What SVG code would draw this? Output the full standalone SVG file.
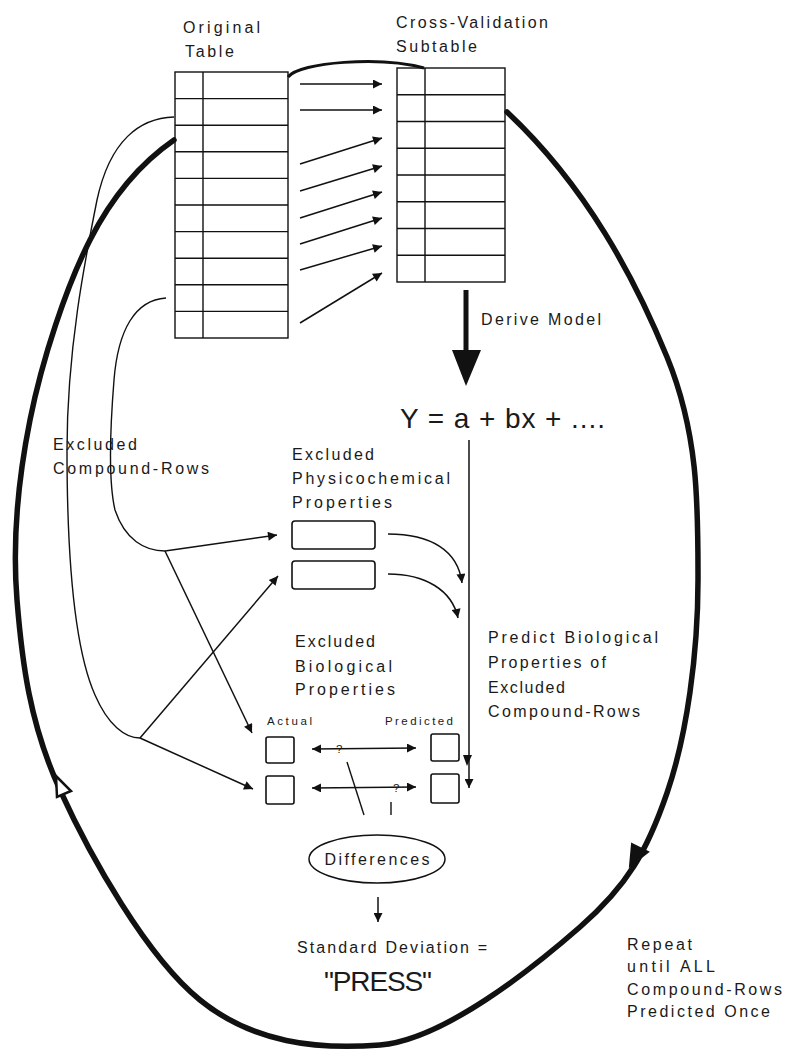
<svg xmlns="http://www.w3.org/2000/svg" width="786" height="1051" viewBox="0 0 786 1051">
<style>
  .t { font-family: "Liberation Sans", Arial, sans-serif; font-size: 16px; fill: #1a1a1a; }
  .s { font-family: "Liberation Sans", Arial, sans-serif; font-size: 11.5px; fill: #1a1a1a; }
  .big { font-family: "Liberation Sans", Arial, sans-serif; font-size: 28px; fill: #1a1a1a; }
  .box { fill: #fff; stroke: #111; stroke-width: 1.6; }
  .grid { stroke: #111; stroke-width: 1.4; fill: none; }
  .thin { stroke: #111; stroke-width: 1.4; fill: none; }
  .arr { stroke: #111; stroke-width: 1.5; fill: none; marker-end: url(#ah); }
  .dbl { stroke: #111; stroke-width: 1.5; fill: none; marker-end: url(#ah); marker-start: url(#ah); }
</style>
<defs>
  <marker id="ah" viewBox="0 0 10 10" refX="10" refY="5" markerWidth="12" markerHeight="9" markerUnits="userSpaceOnUse" orient="auto-start-reverse">
    <path d="M0,0 L10,5 L0,10 z" fill="#111"/>
  </marker>
</defs>
<rect width="786" height="1051" fill="#fff"/>

<g id="original-table">
  <rect x="175" y="72" width="113" height="266" class="grid"/>
  <line x1="203" y1="72" x2="203" y2="338" class="grid"/>
  <path class="grid" d="M175,98.6H288M175,125.2H288M175,151.8H288M175,178.4H288M175,205H288M175,231.6H288M175,258.2H288M175,284.8H288M175,311.4H288"/>
  <text class="t" x="183" y="33" textLength="77" lengthAdjust="spacing">Original</text>
  <text class="t" x="185" y="57" textLength="49" lengthAdjust="spacing">Table</text>
</g>

<g id="cv-subtable">
  <rect x="397" y="68" width="108" height="214" class="grid"/>
  <line x1="425" y1="68" x2="425" y2="282" class="grid"/>
  <path class="grid" d="M397,94.75H505M397,121.5H505M397,148.25H505M397,175H505M397,201.75H505M397,228.5H505M397,255.25H505"/>
  <text class="t" x="396" y="28" textLength="152" lengthAdjust="spacing">Cross-Validation</text>
  <text class="t" x="396" y="52" textLength="81" lengthAdjust="spacing">Subtable</text>
</g>

<g id="model">
  <line x1="466" y1="290" x2="466" y2="355" stroke="#111" stroke-width="5"/>
  <polygon points="452,350 481,350 466,386" fill="#111"/>
  <text class="t" x="481" y="325" textLength="120" lengthAdjust="spacing">Derive Model</text>
  <text class="big" x="400" y="428" textLength="205" lengthAdjust="spacing">Y = a + bx + ....</text>
</g>

<g id="excluded-rows-label">
  <text class="t" x="53" y="450" textLength="84" lengthAdjust="spacing">Excluded</text>
  <text class="t" x="53" y="474" textLength="156" lengthAdjust="spacing">Compound-Rows</text>
</g>

<g id="physchem">
  <text class="t" x="292" y="460" textLength="82" lengthAdjust="spacing">Excluded</text>
  <text class="t" x="292" y="484" textLength="158" lengthAdjust="spacing">Physicochemical</text>
  <text class="t" x="292" y="508" textLength="100" lengthAdjust="spacing">Properties</text>
  <rect x="292" y="521" width="83" height="28" rx="3" class="box"/>
  <rect x="292" y="561" width="83" height="28" rx="3" class="box"/>
</g>

<g id="biological">
  <text class="t" x="295" y="647" textLength="80" lengthAdjust="spacing">Excluded</text>
  <text class="t" x="295" y="672" textLength="97" lengthAdjust="spacing">Biological</text>
  <text class="t" x="295" y="695" textLength="100" lengthAdjust="spacing">Properties</text>
  <text class="s" x="267" y="725" textLength="45" lengthAdjust="spacing">Actual</text>
  <text class="s" x="385" y="725" textLength="68" lengthAdjust="spacing">Predicted</text>
  <rect x="266" y="737" width="28" height="26" rx="2" class="box"/>
  <rect x="266" y="776" width="28" height="28" rx="2" class="box"/>
  <rect x="431" y="734" width="28" height="27" rx="2" class="box"/>
  <rect x="431" y="774" width="28" height="29" rx="2" class="box"/>
</g>

<g id="predict-label">
  <text class="t" x="488" y="643" textLength="170" lengthAdjust="spacing">Predict Biological</text>
  <text class="t" x="488" y="668" textLength="118" lengthAdjust="spacing">Properties of</text>
  <text class="t" x="488" y="693" textLength="77" lengthAdjust="spacing">Excluded</text>
  <text class="t" x="488" y="717" textLength="152" lengthAdjust="spacing">Compound-Rows</text>
</g>

<g id="differences">
  <ellipse cx="377" cy="859" rx="68" ry="24" fill="#fff" stroke="#111" stroke-width="1.5"/>
  <text class="t" x="377" y="865" text-anchor="middle" textLength="105" lengthAdjust="spacing">Differences</text>
</g>

<g id="press">
  <text class="t" x="297" y="953" textLength="190" lengthAdjust="spacing">Standard Deviation =</text>
  <text class="big" x="324" y="991" textLength="108" lengthAdjust="spacing">"PRESS"</text>
</g>

<g id="repeat-label">
  <text class="t" x="627" y="950" textLength="65" lengthAdjust="spacing">Repeat</text>
  <text class="t" x="627" y="972" textLength="88" lengthAdjust="spacing">until ALL</text>
  <text class="t" x="627" y="995" textLength="155" lengthAdjust="spacing">Compound-Rows</text>
  <text class="t" x="627" y="1017" textLength="143" lengthAdjust="spacing">Predicted Once</text>
</g>

<g id="connectors">
  <path d="M288,77 C300,62 380,56 424,68" fill="none" stroke="#111" stroke-width="3"/>
  <line x1="300" y1="84" x2="382" y2="84" class="arr"/>
  <line x1="300" y1="110" x2="382" y2="110" class="arr"/>
  <line x1="300" y1="164" x2="382" y2="138" class="arr"/>
  <line x1="300" y1="191" x2="382" y2="166" class="arr"/>
  <line x1="300" y1="218" x2="382" y2="192" class="arr"/>
  <line x1="300" y1="244" x2="382" y2="218" class="arr"/>
  <line x1="300" y1="270" x2="382" y2="246" class="arr"/>
  <line x1="300" y1="323" x2="382" y2="273" class="arr"/>

  <path class="thin" d="M174,117 C140,118 110,140 97,200 C85,260 67,350 67,450 C67,560 75,650 95,695 C108,725 125,738 140,738"/>
  <path class="thin" d="M166,298 C135,300 118,330 114,380 C110,430 108,480 115,510 C125,540 145,551 165,551"/>
  <line x1="165" y1="551" x2="277" y2="535" class="arr"/>
  <line x1="165" y1="551" x2="252" y2="733" class="arr"/>
  <line x1="140" y1="738" x2="278" y2="576" class="arr"/>
  <line x1="140" y1="738" x2="253" y2="789" class="arr"/>

  <path class="arr" d="M388,534 C430,534 458,550 462,583"/>
  <path class="arr" d="M388,574 C425,574 452,590 458,618"/>
  <line x1="469" y1="440" x2="469" y2="788" class="arr"/>
  <polygon points="463,755 472,755 467,766" fill="#111"/>

  <line x1="312" y1="749" x2="416" y2="748" class="dbl"/>
  <line x1="312" y1="788" x2="416" y2="787" class="dbl"/>
  <text class="s" x="336" y="753" font-size="12">?</text>
  <text class="s" x="393" y="792" font-size="12">?</text>
  <line x1="347" y1="762" x2="364" y2="815" class="thin"/>
  <line x1="391" y1="802" x2="391" y2="815" class="thin"/>

  <line x1="378" y1="897" x2="378" y2="922" class="arr"/>

  <path d="M507,112 C587,187 635,279 667,357 C699,435 698,507 698,580 C698,653 687,735 667,793 C647,851 628,885 580,927 C532,969 443,1040 380,1045 C317,1050 253,1043 200,1000 C147,957 90.5,857 60,790 C29.5,723 22,662 17,600 C12,538 18,480 30,420 C42,360 66,287 90,240 C114,193 145,160 174,140" fill="none" stroke="#111" stroke-width="5.5" stroke-linecap="round"/>
  <polygon points="630,866 648,852 632,844" fill="#111" stroke="#111" stroke-width="2"/>
  <polygon points="56,776 71,791 57,797" fill="#fff" stroke="#111" stroke-width="2.5"/>
</g>
</svg>
